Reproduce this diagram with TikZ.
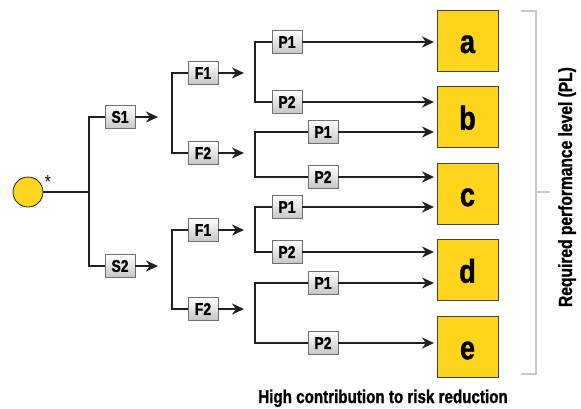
\documentclass[tikz,border=0pt]{standalone}
\usepackage{fontspec}
\setmainfont{Liberation Sans}[FakeStretch=0.82, BoldFont={Liberation Sans Bold}, BoldFeatures={FakeBold=1.2}]
\usepackage{xcolor}
\usepackage{tikz}
\usetikzlibrary{arrows.meta, positioning}
\definecolor{riskyellow}{HTML}{FFD41C}
\definecolor{treeblack}{HTML}{231F20}
\definecolor{boxgray}{HTML}{707070}
\definecolor{bracketgray}{HTML}{C8C8C8}

\begin{document}
\begin{tikzpicture}[x=1pt, y=-1pt, font=\bfseries,
    param/.style={rectangle, draw=boxgray, line width=0.8pt, top color=white, bottom color=gray!45,
      minimum width=30pt, minimum height=23pt, inner sep=0pt, font=\fontsize{17}{17}\selectfont\bfseries},
    plevel/.style={rectangle, draw=treeblack!85, line width=0.8pt, fill=riskyellow, minimum size=61pt,
      inner sep=0pt, text height=25pt, text depth=0pt, font=\fontsize{33}{33}\selectfont\bfseries},
    branch/.style={line width=2.8pt, treeblack},
    pointer/.style={branch, -{Stealth[length=12pt, width=11pt]}}]

    \useasboundingbox (0,0) rectangle (581,408);

    % start point and severity
    \node (root) [circle, draw=treeblack, line width=0.8pt, fill=riskyellow, minimum size=30pt, inner sep=0pt] at (28,192) {};
    \node (star) [font=\fontsize{19}{19}\selectfont] at (48,182) {*};
    \coordinate (j0) at (89,192);
    \node (s1) [param] at (120,117) {S1};
    \node (s2) [param] at (120,266) {S2};
    \coordinate (s1end) at (158,117);
    \coordinate (s2end) at (158,266);

    % frequency
    \coordinate (j1) at (172,113);
    \coordinate (j2) at (172,270);
    \node (f11) [param] at (203,73) {F1};
    \node (f12) [param] at (203,153) {F2};
    \node (f21) [param] at (203,230) {F1};
    \node (f22) [param] at (203,309) {F2};
    \coordinate (fend) at (244,0);

    % possibility of avoidance
    \coordinate (k11) at (255,72);
    \coordinate (k12) at (255,154);
    \coordinate (k21) at (255,230);
    \coordinate (k22) at (255,313);
    \node (p111) [param] at (287,42) {P1};
    \node (p112) [param] at (287,102) {P2};
    \node (p121) [param] at (323,132) {P1};
    \node (p122) [param] at (323,177) {P2};
    \node (p211) [param] at (287,207) {P1};
    \node (p212) [param] at (287,252) {P2};
    \node (p221) [param] at (323,283) {P1};
    \node (p222) [param] at (323,343) {P2};
    \coordinate (tipx) at (434,0);

    % performance levels
    \node (pla) [plevel] at (467.5,40.5) {a};
    \node (plb) [plevel, below=14.75pt of pla] {b};
    \node (plc) [plevel, below=14.75pt of plb] {c};
    \node (pld) [plevel, below=14.75pt of plc] {d};
    \node (ple) [plevel, below=14.75pt of pld] {e};

    \draw [branch] (root) -- (j0);
    \draw [branch] (j0) |- (s1.west);
    \draw [branch] (j0) |- (s2.west);
    \draw [pointer] (s1.east) -- (s1end);
    \draw [pointer] (s2.east) -- (s2end);

    \draw [branch] (f11.west) -| (j1) |- (f12.west);
    \draw [branch] (f21.west) -| (j2) |- (f22.west);
    \foreach \f in {f11, f12, f21, f22} {
      \draw [pointer] (\f.east) -- (\f.east -| fend);
    }

    \draw [branch] (p111.west) -| (k11) |- (p112.west);
    \draw [branch] (p121.west) -| (k12) |- (p122.west);
    \draw [branch] (p211.west) -| (k21) |- (p212.west);
    \draw [branch] (p221.west) -| (k22) |- (p222.west);
    \foreach \p in {p111, p112, p121, p122, p211, p212, p221, p222} {
      \draw [pointer] (\p.east) -- (\p.east -| tipx);
    }

    % bracket and captions
    \draw [bracketgray, line width=2.5pt] (521,11) -- (536,11) -- (536,374) -- (521,374);
    \draw [bracketgray, line width=2.5pt] (536,192) -- (550,192);
    \node (plcap) [rotate=90, anchor=base, font=\fontsize{19}{19}\selectfont\bfseries] at (572,187) {Required performance level (PL)};
    \node (riskcap) [anchor=base, font=\fontsize{18.5}{18.5}\selectfont\bfseries] at (383,403) {High contribution to risk reduction};
\end{tikzpicture}
\end{document}
